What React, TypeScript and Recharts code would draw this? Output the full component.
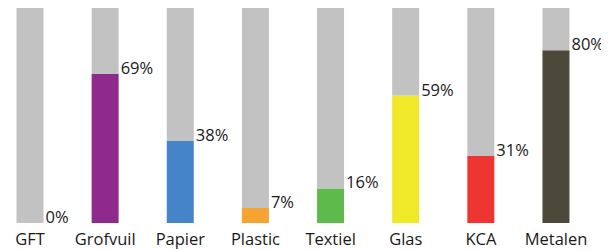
import React from 'react';
import { BarChart, Bar, XAxis, YAxis, Cell, LabelList } from 'recharts';

const categories = ['GFT', 'Grofvuil', 'Papier', 'Plastic', 'Textiel', 'Glas', 'KCA', 'Metalen'];
const shares = [0, 69, 38, 7, 16, 59, 31, 80];
const colors = ['#C1C2C1', '#8E2A8B', '#4584C8', '#F5A431', '#5DBB4B', '#F0E92A', '#EE3531', '#4B4A3A'];
const grey = '#C1C2C1';

// coloured part + the grey rest up to 100%
const data = categories.map((name, i) => ({ name, value: shares[i], rest: 100 - shares[i] }));

const font = '"Open Sans", sans-serif';

const ValueLabel = (props: any) => {
  const { x, y, width, height, index } = props;
  const bottom = height < 0 ? y : y + height;
  return (
    <text x={x + width + 2} y={bottom} fill="#1a1a1a" fontSize={16.5} fontFamily={font}>
      {shares[index]}%
    </text>
  );
};

const App: React.FC = () => {
  return (
    <div style={{ margin: '-8px 0 0 -16px' }}>
      <BarChart
        width={625}
        height={250}
        data={data}
        margin={{ top: 7, right: 23.4, left: 0.5, bottom: 0 }}
      >
        <XAxis
          dataKey="name"
          axisLine={false}
          tickLine={false}
          height={27}
          tickMargin={4}
          interval={0}
          tick={{ fontSize: 16.5, fill: '#1a1a1a', fontFamily: font }}
        />
        <YAxis hide domain={[0, 100]} />
        <Bar dataKey="value" stackId="a" barSize={27} isAnimationActive={false}>
          {data.map((d, i) => (
            <Cell key={d.name} fill={colors[i]} />
          ))}
        </Bar>
        <Bar dataKey="rest" stackId="a" barSize={27} fill={grey} isAnimationActive={false}>
          <LabelList dataKey="rest" content={<ValueLabel />} />
        </Bar>
      </BarChart>
    </div>
  );
};

export default App;
